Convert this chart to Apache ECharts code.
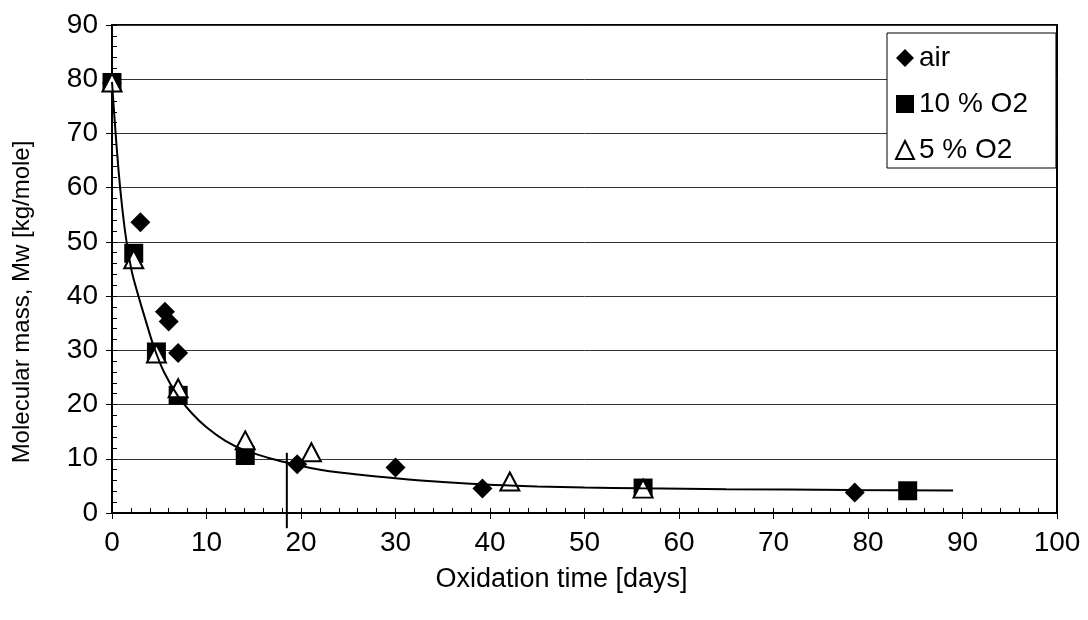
<!DOCTYPE html>
<html>
<head>
<meta charset="utf-8">
<script src="https://cdn.jsdelivr.net/npm/echarts@6/dist/echarts.min.js"></script>
<style>
  html, body { margin: 0; padding: 0; background: #fff; }
  #chart { width: 1088px; height: 620px; }
</style>
</head>
<body>
<div id="chart"></div>
<script>
// measured points [days, Mw]
var airData = [[0, 79.3], [3.0, 53.6], [5.6, 37.1], [6.0, 35.3], [7.0, 29.5], [19.6, 9.0], [30.0, 8.4], [39.2, 4.5], [78.6, 3.8]]
var o210Data = [[0, 79.4], [2.3, 47.9], [4.7, 29.7], [7.0, 21.7], [14.1, 10.6], [56.2, 4.6], [84.2, 4.1]]
var o2_5Data = [[0, 79.4], [2.3, 46.8], [4.7, 29.4], [7.0, 23.0], [14.1, 13.4], [21.1, 11.2], [42.1, 5.8], [56.2, 4.5]]
// fitted trend line
var fitData = [[0, 79.5], [0.3, 72], [0.7, 63], [1.1, 56], [1.5, 50.5], [2.1, 44.5], [2.8, 40], [3.6, 35.3],
  [4.4, 30.8], [5.5, 26], [7, 21.5], [8.5, 18.3], [10, 15.8], [12, 13.3], [14, 11.6], [16.5, 10.2],
  [18.5, 9.3], [21, 8.3], [23, 7.7], [26, 7.1], [30, 6.4], [35, 5.7], [40, 5.2], [45, 4.9], [50, 4.7],
  [56, 4.55], [65, 4.4], [78, 4.25], [89, 4.15]]
// vertical marker line at ~18.5 days
var markerLine = [[18.5, 11.1], [18.5, -2.8]]

var FONT = 'Liberation Sans, Arial, sans-serif'

var option = {
  animation: false,
  backgroundColor: '#fff',
  grid: { // plot area
    left: 112,
    right: 31,
    top: 25,
    bottom: 107,
    show: true,
    borderColor: '#000',
    borderWidth: 2,
    backgroundColor: 'transparent'
  },
  legend: {
    orient: 'vertical',
    left: 887,
    top: 33,
    padding: [11, 28, 4, 8],
    itemGap: 18,
    itemWidth: 18,
    itemHeight: 18,
    backgroundColor: '#fff',
    borderColor: '#000',
    borderWidth: 1,
    textStyle: { fontFamily: FONT, fontSize: 28, color: '#000', lineHeight: 26 },
    data: ['air', '10 % O2', '5 % O2']
  },
  xAxis: [
    {
      type: 'value',
      min: 0,
      max: 100,
      interval: 10,
      position: 'bottom',
      name: 'Oxidation time [days]',
      nameLocation: 'middle',
      nameGap: 53,
      nameTextStyle: { fontFamily: FONT, fontSize: 27, color: '#000', padding: [0, 46, 0, 0] },
      axisLine: { lineStyle: { color: '#000', width: 2 } },
      axisTick: { show: true, length: 6, lineStyle: { color: '#000', width: 1 } },
      axisLabel: { fontFamily: FONT, fontSize: 28, color: '#000', margin: 16 },
      splitLine: { show: false }
    },
    {
      type: 'value',
      min: 0,
      max: 100,
      interval: 2,
      position: 'bottom',
      axisLine: { show: false },
      axisTick: { show: true, inside: true, length: 5, lineStyle: { color: '#000', width: 1 } },
      axisLabel: { show: false },
      splitLine: { show: false }
    }
  ],
  yAxis: [
    {
      type: 'value',
      min: 0,
      max: 90,
      interval: 10,
      position: 'left',
      name: 'Molecular mass, Mw [kg/mole]',
      nameLocation: 'middle',
      nameGap: 78,
      nameTextStyle: { fontFamily: FONT, fontSize: 24, color: '#000', padding: [0, 66, 0, 0] },
      axisLine: { lineStyle: { color: '#000', width: 2 } },
      axisTick: { show: true, length: 6, lineStyle: { color: '#000', width: 1 } },
      axisLabel: { fontFamily: FONT, fontSize: 28, color: '#000', margin: 14 },
      splitLine: { show: true, lineStyle: { color: '#333', width: 1 } }
    },
    {
      type: 'value',
      min: 0,
      max: 90,
      interval: 2,
      position: 'left',
      axisLine: { show: false },
      axisTick: { show: true, inside: true, length: 5, lineStyle: { color: '#000', width: 1 } },
      axisLabel: { show: false },
      splitLine: { show: false }
    }
  ],
  series: [
    {
      name: 'fit',
      type: 'line',
      data: fitData,
      smooth: 0.3,
      showSymbol: false,
      silent: true,
      lineStyle: { color: '#000', width: 2 }
    },
    {
      name: 'marker',
      type: 'line',
      data: markerLine,
      clip: false,
      showSymbol: false,
      silent: true,
      lineStyle: { color: '#000', width: 2 }
    },
    {
      name: 'air',
      type: 'scatter',
      data: airData,
      symbol: 'diamond',
      symbolSize: 20,
      itemStyle: { color: '#000', opacity: 1 }
    },
    {
      name: '10 % O2',
      type: 'scatter',
      data: o210Data,
      symbol: 'rect',
      symbolSize: 19,
      itemStyle: { color: '#000', opacity: 1 }
    },
    {
      name: '5 % O2',
      type: 'scatter',
      data: o2_5Data,
      symbol: 'triangle',
      symbolSize: [19, 18],
      itemStyle: { color: '#fff', borderColor: '#000', borderWidth: 2, opacity: 1 }
    }
  ]
}

var chartObj = echarts.init(document.getElementById('chart'))
chartObj.setOption(option)
</script>
</body>
</html>
